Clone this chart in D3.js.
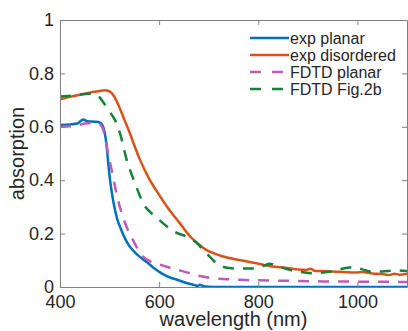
<!DOCTYPE html>
<meta charset="utf-8">
<style>
body { margin: 0; background: #fff; }
text { font-family: "Liberation Sans", Arial, sans-serif; fill: #262626; }
.line { fill: none; stroke-width: 2.5; }
</style>
<body>
<script src="https://d3js.org/d3.v7.min.js"></script>
<script>

// data
var expPlanarWl  = [400,420,435,442,447,455,470,480,486,490,494,497,501,507,512,517,521,531,541,551,561,578,590,605,620,638,655,672,678,682,688,700,720,1100];
var expPlanarAbs = [0.607,0.609,0.612,0.622,0.627,0.621,0.619,0.616,0.605,0.58,0.53,0.47,0.40,0.326,0.28,0.245,0.226,0.182,0.151,0.13,0.113,0.089,0.07,0.051,0.037,0.026,0.015,0.007,0.004,0.008,0.004,0.001,0,0];

var expDisWl  = [400,420,440,460,480,490,497,504,511,521,530,541,550,561,580,600,620,640,662,680,695,712,729,762,796,829,863,880,896,905,915,930,950,963,980,997,1010,1030,1050,1064,1075,1085,1100];
var expDisAbs = [0.703,0.712,0.72,0.728,0.734,0.737,0.735,0.727,0.708,0.668,0.626,0.576,0.53,0.478,0.405,0.345,0.29,0.243,0.19,0.16,0.139,0.125,0.114,0.101,0.089,0.077,0.07,0.066,0.064,0.068,0.06,0.06,0.058,0.057,0.055,0.054,0.056,0.051,0.049,0.045,0.05,0.046,0.05];

var fdtdPlanarWl  = [400,430,450,470,480,486,491,497,504,514,520,527,535,544,555,568,578,590,605,620,638,660,682,705,729,762,796,863,930,1000,1100];
var fdtdPlanarAbs = [0.6,0.603,0.612,0.615,0.61,0.595,0.56,0.50,0.44,0.351,0.305,0.263,0.222,0.188,0.148,0.113,0.10,0.09,0.082,0.073,0.064,0.053,0.041,0.034,0.03,0.027,0.025,0.023,0.021,0.02,0.019];

var fdtdFigWl  = [400,430,460,475,484,497,511,522,534,551,568,595,631,665,680,690,702,715,729,745,762,796,812,823,840,863,890,910,930,943,965,990,1010,1030,1050,1077,1100];
var fdtdFigAbs = [0.713,0.718,0.724,0.72,0.70,0.665,0.625,0.57,0.48,0.39,0.313,0.26,0.207,0.18,0.158,0.135,0.114,0.09,0.076,0.07,0.069,0.07,0.08,0.087,0.078,0.064,0.055,0.051,0.054,0.057,0.067,0.074,0.066,0.057,0.058,0.062,0.06];

var seriesNames = ["exp planar", "exp disordered", "FDTD planar", "FDTD Fig.2b"];
var xTicks = [400, 600, 800, 1000];
var yTicks = [0, 0.2, 0.4, 0.6, 0.8, 1];

var series = [
  {name: seriesNames[0], wl: expPlanarWl,  a: expPlanarAbs,  color: "#0072bd", dash: null},
  {name: seriesNames[1], wl: expDisWl,     a: expDisAbs,     color: "#d95319", dash: null},
  {name: seriesNames[2], wl: fdtdPlanarWl, a: fdtdPlanarAbs, color: "#c259b9", dash: "11,9"},
  {name: seriesNames[3], wl: fdtdFigWl,    a: fdtdFigAbs,    color: "#17803b", dash: "11,9"}
];

var W = 408, H = 331;
var pLeft = 60, pRight = 407, pTop = 20, pBottom = 287;

var x = d3.scaleLinear().domain([400, 1100]).range([pLeft, pRight]);
var y = d3.scaleLinear().domain([0, 1]).range([pBottom, pTop]);

var svg = d3.select("body").append("svg")
    .attr("width", W)
    .attr("height", H);

svg.append("clipPath").attr("id", "clip")
  .append("rect")
    .attr("x", pLeft).attr("y", pTop - 5)
    .attr("width", pRight - pLeft).attr("height", pBottom - pTop + 5);

var line = d3.line()
    .x(function(d) { return x(d[0]); })
    .y(function(d) { return y(d[1]); })
    .curve(d3.curveMonotoneX);

// the curves
var g = svg.append("g").attr("clip-path", "url(#clip)");
series.forEach(function(s) {
  var pts = s.wl.map(function(w, i) { return [w, s.a[i]]; });
  g.append("path")
      .datum(pts)
      .attr("class", "line")
      .attr("stroke", s.color)
      .attr("stroke-dasharray", s.dash)
      .attr("d", line);
});

// axes (box with inward ticks)
var axisColor = "#808080";
function styleAxis(sel) {
  sel.select(".domain").attr("stroke", axisColor);
  sel.selectAll(".tick line").attr("stroke", axisColor);
  sel.selectAll("text").style("font-size", "18px").attr("fill", "#262626");
}

svg.append("g")
    .attr("transform", "translate(0," + pBottom + ")")
    .call(d3.axisBottom(x).tickValues(xTicks).tickSizeInner(-5).tickSizeOuter(0).tickPadding(10)
      .tickFormat(d3.format("d")))
    .call(styleAxis)
    .selectAll("text").attr("dy", "0.6em");

svg.append("g")
    .attr("transform", "translate(0," + pTop + ")")
    .call(d3.axisTop(x).tickValues(xTicks).tickSizeInner(-5).tickSizeOuter(0).tickFormat(""))
    .call(styleAxis);

svg.append("g")
    .attr("transform", "translate(" + pLeft + ",0)")
    .call(d3.axisLeft(y).tickValues(yTicks).tickSizeInner(-5).tickSizeOuter(0).tickPadding(6)
      .tickFormat(function(d) { return d === 0 || d === 1 ? d3.format("d")(d) : d3.format(".1f")(d); }))
    .call(styleAxis);

svg.append("g")
    .attr("transform", "translate(" + pRight + ",0)")
    .call(d3.axisRight(y).tickValues(yTicks).tickSizeInner(-5).tickSizeOuter(0).tickFormat(""))
    .call(styleAxis);

// axis titles
svg.append("text")
    .attr("x", (pLeft + pRight) / 2)
    .attr("y", 326)
    .attr("text-anchor", "middle")
    .style("font-size", "20px")
    .text("wavelength (nm)");

svg.append("text")
    .attr("transform", "translate(24," + ((pTop + pBottom) / 2) + ") rotate(-90)")
    .attr("text-anchor", "middle")
    .style("font-size", "20px")
    .text("absorption");

// legend
var legend = svg.append("g");
series.forEach(function(s, i) {
  var ly = 38 + i * 17;
  legend.append("line")
      .attr("x1", 250).attr("x2", 289)
      .attr("y1", ly).attr("y2", ly)
      .attr("stroke", s.color)
      .attr("stroke-width", 2.5)
      .attr("stroke-dasharray", s.dash ? "11,11" : null);
  legend.append("text")
      .attr("x", 290)
      .attr("y", ly)
      .attr("dy", "0.35em")
      .style("font-size", "16px")
      .text(s.name);
});

</script>
</body>
